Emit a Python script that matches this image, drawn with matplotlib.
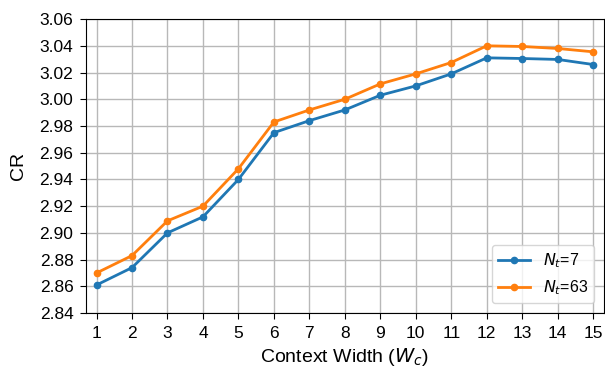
import matplotlib
matplotlib.use("Agg")
import matplotlib.pyplot as plt

plt.rcParams['font.family'] = ['Liberation Sans', 'DejaVu Sans']

# Context width values
widths = list(range(1, 16))

# CR for each N_t
cr_nt7 = [2.861, 2.874, 2.900, 2.912, 2.940, 2.975, 2.984, 2.992, 3.003, 3.010,
          3.019, 3.031, 3.0305, 3.0298, 3.026]
cr_nt63 = [2.870, 2.883, 2.909, 2.920, 2.948, 2.983, 2.992, 3.000, 3.0115, 3.019,
           3.0275, 3.040, 3.0395, 3.038, 3.0355]

fig = plt.figure(figsize=(6.05, 3.67), dpi=100)
ax = fig.add_axes([0.142, 0.147, 0.856, 0.801])

ax.plot(widths, cr_nt7, marker='o', markersize=4.5, linewidth=2, color='#1f77b4', label=r'$N_t$=7')
ax.plot(widths, cr_nt63, marker='o', markersize=4.5, linewidth=2, color='#ff7f0e', label=r'$N_t$=63')

ax.set_xlabel(r'Context Width ($W_c$)', fontsize=14, labelpad=4)
ax.set_ylabel('CR', fontsize=14, labelpad=9)
ax.set_xlim(0.7, 15.3)
ax.set_ylim(2.84, 3.06)
ax.set_xticks(widths)
ax.set_yticks([2.84 + 0.02 * i for i in range(12)])
ax.yaxis.set_major_formatter(matplotlib.ticker.FormatStrFormatter('%.2f'))
ax.tick_params(labelsize=12.5, length=4, pad=5)
ax.grid(True, color='#b8b8b8', linewidth=1)
ax.set_axisbelow(True)

ax.legend(loc='lower right', fontsize=11.5, handlelength=2, borderaxespad=0.6)

fig.savefig("out.png", dpi=100)
